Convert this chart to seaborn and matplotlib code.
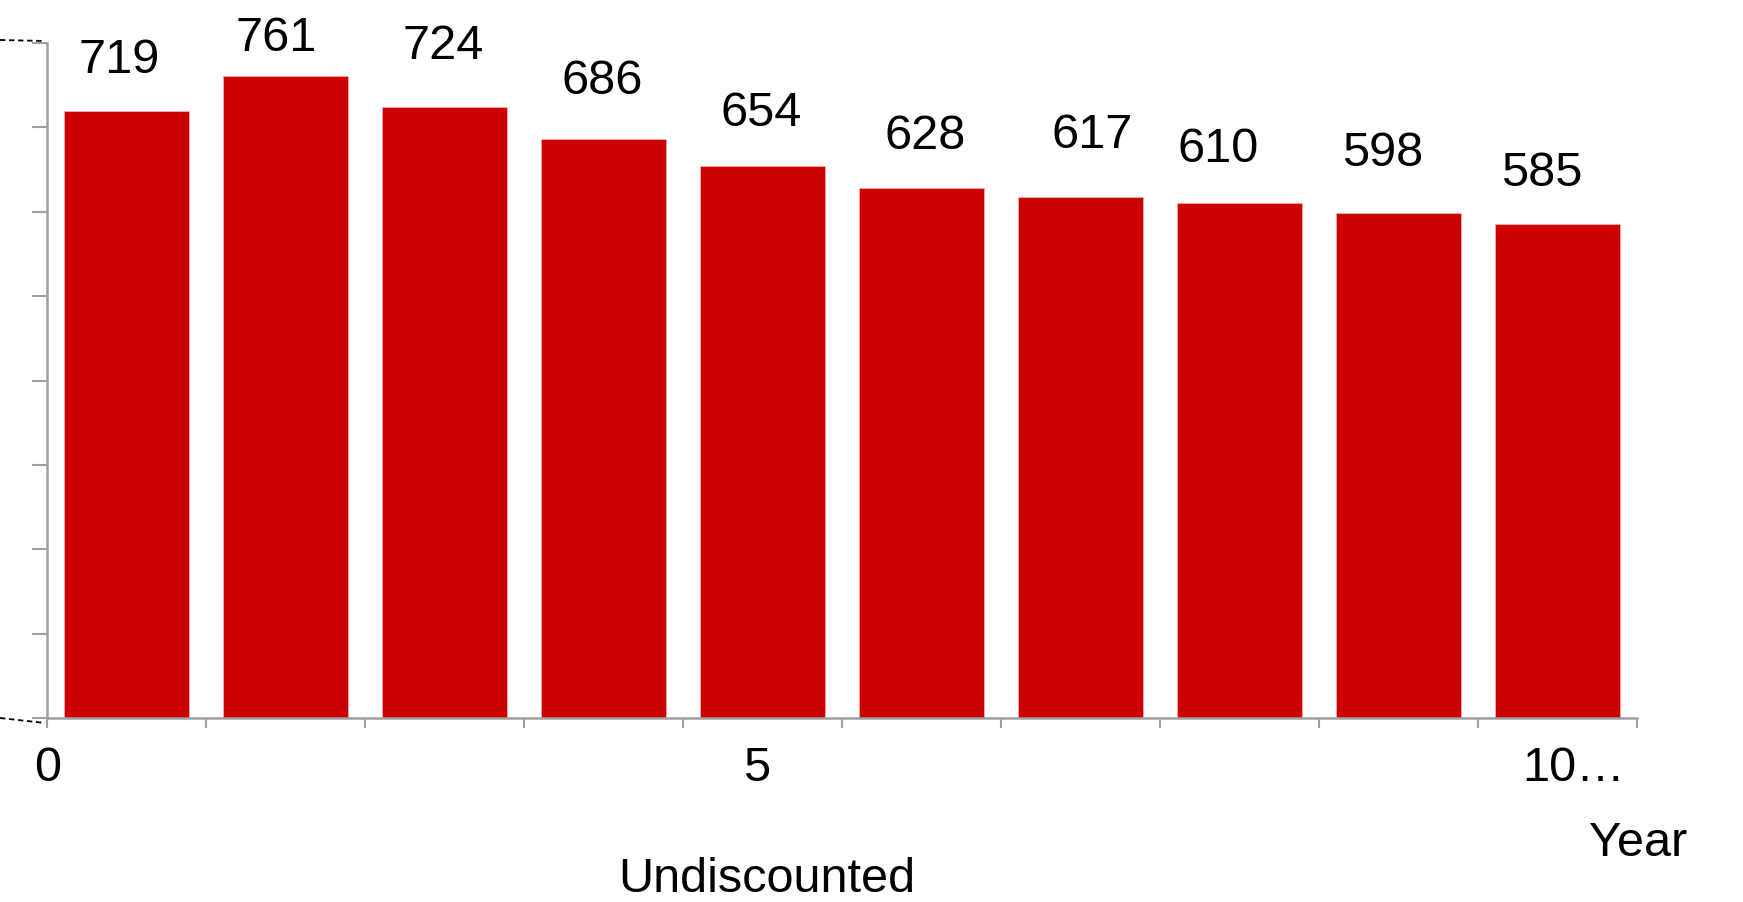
import matplotlib
matplotlib.use("Agg")
import matplotlib.pyplot as plt
import seaborn as sns
import pandas as pd
from matplotlib.lines import Line2D

# ---- data ----
years = ["1", "2", "3", "4", "5", "6", "7", "8", "9", "10"]
values = [719, 761, 724, 686, 654, 628, 617, 610, 598, 585]
tick_labels = ["0", "5", "10…"]
x_title = "Year"
subtitle = "Undiscounted"

# ---- layout (label offsets in pixels, not data) ----
label_dx = [-7, -9, -1, -1, -1, 4, 12, -21, -16, -16]
label_dy = [51, 37, 61, 58, 53, 52, 62, 54, 60, 51]

sns.set_theme(style="white")
plt.rcParams['font.family'] = ['Liberation Sans', 'DejaVu Sans']
plt.rcParams['text.color'] = 'black'
plt.rcParams['xtick.color'] = 'black'

W, H = 1743, 902
FS = 35
fig = plt.figure(figsize=(W / 100, H / 100), dpi=100)
ax = fig.add_axes([47 / W, 1 - 718 / H, (1637 - 47) / W, (718 - 43) / H])

df = pd.DataFrame({"year": years, "value": values})
sns.barplot(data=df, x="year", y="value", color="#CC0000", saturation=1,
            width=0.79, edgecolor="#f4b0b0", linewidth=0.6, ax=ax)

ax.set_xlim(-0.5, len(years) - 0.5)
ax.set_ylim(0, 800)
ax.set_yticks(range(0, 801, 100))
ax.set_yticklabels([])
ax.set_xlabel("")
ax.set_ylabel("")

# tick marks at category boundaries
ax.set_xticks([i - 0.5 for i in range(len(years) + 1)])
ax.set_xticklabels([])
ax.set_xticks([-0.497, 3.96, 9.1], minor=True)
ax.set_xticklabels(tick_labels, minor=True, fontsize=FS, color="black")
ax.tick_params(axis="x", which="minor", length=0, pad=20, labelcolor="black")
ax.tick_params(axis="x", which="major", length=7, width=1.5, color="#A0A0A0",
               direction="out", bottom=True)
ax.tick_params(axis="y", which="major", length=11, width=1.5, color="#A0A0A0",
               direction="out", left=True)

for s in ["top", "right"]:
    ax.spines[s].set_visible(False)
for s in ["left", "bottom"]:
    ax.spines[s].set_color("#A0A0A0")
    ax.spines[s].set_linewidth(1.8)

for i, (p, v) in enumerate(zip(ax.patches, values)):
    cx = p.get_x() + p.get_width() / 2
    ax.annotate(f"{v}", xy=(cx, p.get_height()), xytext=(label_dx[i], label_dy[i]),
                textcoords="offset pixels", ha="center", va="center", fontsize=FS,
                color="black")

fig.text(1638 / W, 1 - 843 / H, x_title, ha="center", va="center", fontsize=FS, color="black")
fig.text(767 / W, 1 - 880 / H, subtitle, ha="center", va="center", fontsize=FS, color="black")

# dashed connector lines at the left edge
fig.add_artist(Line2D([0 / W, 45 / W], [1 - 40 / H, 1 - 41 / H], transform=fig.transFigure,
                      color="black", linestyle=(0, (3, 2)), linewidth=1.3))
fig.add_artist(Line2D([0 / W, 45 / W], [1 - 718 / H, 1 - 723 / H], transform=fig.transFigure,
                      color="black", linestyle=(0, (3, 2)), linewidth=1.3))

fig.savefig("out.png", dpi=100)
